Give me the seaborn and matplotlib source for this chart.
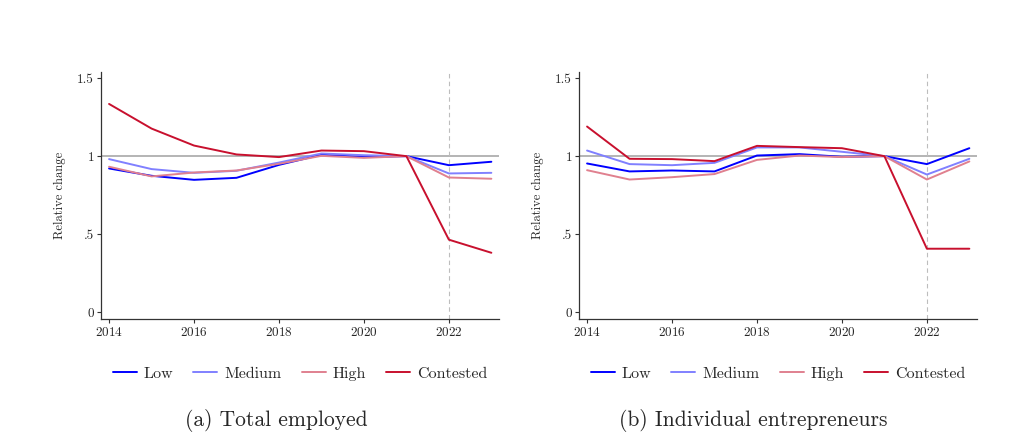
import matplotlib
matplotlib.use("Agg")
import matplotlib.pyplot as plt
import pandas as pd
import seaborn as sns

sns.set_theme(style="white")
plt.rcParams["font.family"] = ["cmr10", "DejaVu Serif"]
plt.rcParams["axes.formatter.use_mathtext"] = True

years = [2014, 2015, 2016, 2017, 2018, 2019, 2020, 2021, 2022, 2023]
groups = ["Low", "Medium", "High", "Contested"]
colors = ["#0000ff", "#8080ff", "#e0808f", "#c8102e"]

# (a) Total employed
emp_low = [0.921, 0.874, 0.848, 0.861, 0.944, 1.009, 0.994, 1.0, 0.942, 0.964]
emp_medium = [0.981, 0.917, 0.893, 0.906, 0.959, 1.017, 1.006, 1.0, 0.889, 0.893]
emp_high = [0.932, 0.870, 0.895, 0.908, 0.951, 1.002, 0.989, 1.0, 0.863, 0.855]
emp_contested = [1.335, 1.177, 1.068, 1.011, 0.994, 1.036, 1.032, 1.0, 0.464, 0.380]

# (b) Individual entrepreneurs
ent_low = [0.953, 0.902, 0.908, 0.902, 1.004, 1.013, 0.996, 1.0, 0.949, 1.051]
ent_medium = [1.036, 0.949, 0.942, 0.957, 1.056, 1.056, 1.028, 1.0, 0.882, 0.983]
ent_high = [0.910, 0.850, 0.865, 0.885, 0.976, 1.004, 0.994, 1.0, 0.850, 0.966]
ent_contested = [1.190, 0.983, 0.981, 0.968, 1.066, 1.058, 1.051, 1.0, 0.406, 0.406]

xticks = [2014, 2016, 2018, 2020, 2022]
yticks = [0, 0.5, 1, 1.5]
ytick_labels = ["0", ".5", "1", "1.5"]


def to_long(series):
    rows = []
    for name, vals in zip(groups, series):
        for yr, v in zip(years, vals):
            rows.append({"year": yr, "value": v, "group": name})
    return pd.DataFrame(rows)


def draw_panel(ax, df, caption, cap_x):
    ax.axhline(1, color="#a0a0a0", lw=1.1, zorder=1)
    ax.axvline(2022, color="#bdbdbd", lw=0.8, ls=(0, (4, 3)), zorder=1)
    sns.lineplot(data=df, x="year", y="value", hue="group", hue_order=groups,
                 palette=colors, lw=1.4, ax=ax, zorder=3)
    ax.set_xlim(2013.81, 2023.18)
    ax.set_ylim(-0.045, 1.54)
    ax.set_xticks(xticks)
    ax.set_yticks(yticks)
    ax.set_yticklabels(ytick_labels)
    ax.set_xlabel("")
    ax.set_ylabel("Relative change", fontsize=9, labelpad=8)
    ax.tick_params(axis="both", labelsize=9.5, length=3, width=0.8,
                   color="#333333", direction="out", left=True, bottom=True, pad=2)
    for side in ["top", "right"]:
        ax.spines[side].set_visible(False)
    for side in ["left", "bottom"]:
        ax.spines[side].set_color("#333333")
        ax.spines[side].set_linewidth(0.9)
    ax.legend(loc="upper center", bbox_to_anchor=(0.5, -0.135), ncol=4,
              frameon=False, fontsize=11.5, handlelength=1.5, columnspacing=1.25,
              handletextpad=0.45)
    fig.text(cap_x, 0.035, caption, ha="center", va="bottom", fontsize=15.5)


fig = plt.figure(figsize=(10.30, 4.48), dpi=100)
ax1 = fig.add_axes([101 / 1030, 1 - 319 / 448, 398 / 1030, 247 / 448])
ax2 = fig.add_axes([579 / 1030, 1 - 319 / 448, 398 / 1030, 247 / 448])

draw_panel(ax1, to_long([emp_low, emp_medium, emp_high, emp_contested]),
           "(a) Total employed", 276 / 1030)
draw_panel(ax2, to_long([ent_low, ent_medium, ent_high, ent_contested]),
           "(b) Individual entrepreneurs", 753 / 1030)

fig.savefig("out.png", dpi=100, facecolor="white")
